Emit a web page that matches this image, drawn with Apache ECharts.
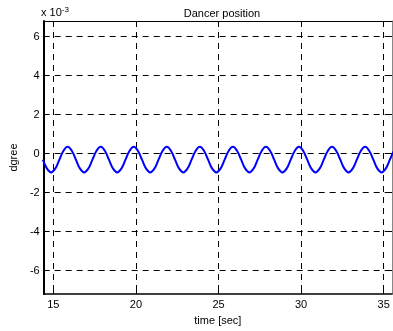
<!DOCTYPE html>
<html>
<head>
<meta charset="utf-8">
<script src="https://cdn.jsdelivr.net/npm/echarts@6/dist/echarts.min.js"></script>
<style>
  html, body { margin: 0; padding: 0; background: #fff; }
  #chart { width: 393px; height: 331px; }
</style>
</head>
<body>
<div id="chart"></div>
<script>
// time samples [sec], read every quarter of a half period
const time = [
  14.37, 14.62, 14.87, 15.12, 15.37, 15.62, 15.87, 16.12,
  16.37, 16.62, 16.87, 17.12, 17.37, 17.62, 17.87, 18.12,
  18.37, 18.62, 18.87, 19.12, 19.37, 19.62, 19.87, 20.12,
  20.37, 20.62, 20.87, 21.12, 21.37, 21.62, 21.87, 22.12,
  22.37, 22.62, 22.87, 23.12, 23.37, 23.62, 23.87, 24.12,
  24.37, 24.62, 24.87, 25.12, 25.37, 25.62, 25.87, 26.12,
  26.37, 26.62, 26.87, 27.12, 27.37, 27.62, 27.87, 28.12,
  28.37, 28.62, 28.87, 29.12, 29.37, 29.62, 29.87, 30.12,
  30.37, 30.62, 30.87, 31.12, 31.37, 31.62, 31.87, 32.12,
  32.37, 32.62, 32.87, 33.12, 33.37, 33.62, 33.87, 34.12,
  34.37, 34.62, 34.87, 35.12, 35.37, 35.62, 35.87, 36.12
];
// dancer angle, in units of 1e-3
const angle = [
  -0.31, -0.77, -0.96, -0.77, -0.31, 0.15, 0.35, 0.15,
  -0.31, -0.77, -0.96, -0.77, -0.31, 0.15, 0.35, 0.15,
  -0.31, -0.77, -0.96, -0.77, -0.31, 0.15, 0.35, 0.15,
  -0.31, -0.77, -0.96, -0.77, -0.31, 0.15, 0.35, 0.15,
  -0.31, -0.77, -0.96, -0.77, -0.31, 0.15, 0.35, 0.15,
  -0.31, -0.77, -0.96, -0.77, -0.31, 0.15, 0.35, 0.15,
  -0.31, -0.77, -0.96, -0.77, -0.31, 0.15, 0.35, 0.15,
  -0.31, -0.77, -0.96, -0.77, -0.31, 0.15, 0.35, 0.15,
  -0.31, -0.77, -0.96, -0.77, -0.31, 0.15, 0.35, 0.15,
  -0.31, -0.77, -0.96, -0.77, -0.31, 0.15, 0.35, 0.15,
  -0.31, -0.77, -0.96, -0.77, -0.31, 0.15, 0.35, 0.15
];
const xTicks = [15, 20, 25, 30, 35];
const yTicks = [-6, -4, -2, 0, 2, 4, 6];

const FONT = '"Liberation Sans", Arial, sans-serif';
const gridDash = { color: '#000', width: 1, type: [6, 5] };

const chart = echarts.init(document.getElementById('chart'));

const baseX = {
  type: 'value',
  min: 14.42,
  max: 35.5,
  axisTick: { inside: true, length: 4, lineStyle: { color: '#000' }, customValues: xTicks },
  axisLabel: { customValues: xTicks, color: '#000', fontSize: 11, fontFamily: FONT, margin: 5 },
};
const baseY = {
  type: 'value',
  min: -7.2,
  max: 6.8,
  axisTick: { inside: true, length: 4, lineStyle: { color: '#000' }, customValues: yTicks },
  axisLabel: { customValues: yTicks, color: '#000', fontSize: 11, fontFamily: FONT, margin: 4 },
};

chart.setOption({
  backgroundColor: '#fff',
  animation: false,
  title: {
    text: 'Dancer position',
    left: 217,
    textAlign: 'center',
    top: 3,
    textStyle: { color: '#000', fontSize: 11, fontWeight: 'normal', fontFamily: FONT },
  },
  graphic: [{
    type: 'text',
    left: 41,
    top: 6,
    style: {
      text: 'x 10{sup|-3}',
      fill: '#000',
      font: '11px ' + FONT,
      rich: { sup: { fontSize: 8, verticalAlign: 'top', padding: [0, 0, 6, 0], fontFamily: FONT } },
    },
  }],
  grid: { left: 42, right: 1, top: 21, bottom: 34 },
  xAxis: [
    {
      ...baseX,
      position: 'bottom',
      name: 'time [sec]',
      nameLocation: 'middle',
      nameGap: 18,
      nameTextStyle: { color: '#000', fontSize: 11, fontFamily: FONT },
      axisLine: { onZero: false, lineStyle: { color: '#000', width: 1.5 } },
      splitLine: { show: true, lineStyle: gridDash },
    },
    {
      ...baseX,
      position: 'top',
      axisLine: { onZero: false, lineStyle: { color: '#000', width: 1 } },
      axisLabel: { show: false },
      splitLine: { show: false },
    },
  ],
  yAxis: [
    {
      ...baseY,
      position: 'left',
      name: 'dgree',
      nameLocation: 'middle',
      nameGap: 22,
      nameTextStyle: { color: '#000', fontSize: 11, fontFamily: FONT },
      axisLine: { show: true, onZero: false, lineStyle: { color: '#000', width: 2 } },
      splitLine: { show: true, lineStyle: gridDash },
    },
    {
      ...baseY,
      position: 'right',
      axisLine: { show: true, onZero: false, lineStyle: { color: '#888', width: 1 } },
      axisLabel: { show: false },
      splitLine: { show: false },
    },
  ],
  series: [{
    type: 'line',
    data: time.map((t, i) => [t, angle[i]]),
    smooth: 0.4,
    showSymbol: false,
    clip: true,
    lineStyle: { color: '#0000ff', width: 2 },
  }],
});
</script>
</body>
</html>
